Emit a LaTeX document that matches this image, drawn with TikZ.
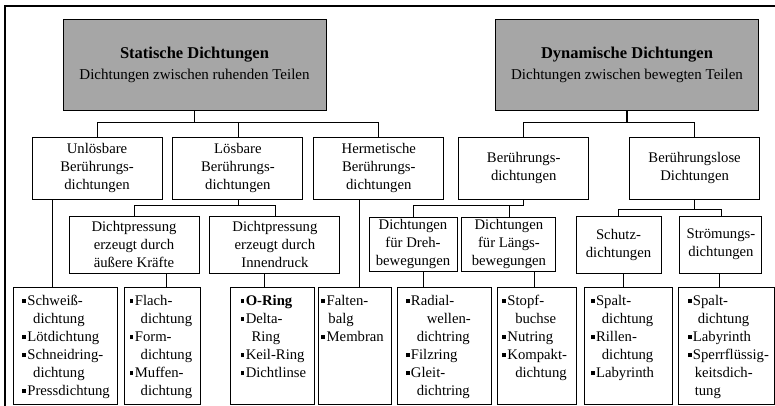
\documentclass[tikz,border=0pt]{standalone}
\usepackage{fontspec}
\setmainfont{Liberation Serif}
\usetikzlibrary{positioning}
\definecolor{hdrgray}{HTML}{A6A6A6}
\newcommand\sq{\raisebox{2.4pt}{\rule{3.8pt}{3.8pt}}\kern1.4pt\relax}
\newcommand\ind{\hspace*{11pt}}

\begin{document}
\begin{tikzpicture}[x=1pt, y=-1pt, font=\fontsize{14.7}{18}\selectfont,
  hdr/.style={draw, line width=0.9pt, fill=hdrgray, align=center, minimum width=263pt, minimum height=91pt, font=\fontsize{15}{21}\selectfont},
  cat/.style={draw, line width=0.9pt, align=center, minimum width=130pt, minimum height=62pt, inner sep=2pt},
  sub/.style={draw, line width=0.9pt, align=center, minimum height=57pt, inner sep=2pt},
  leaf/.style={draw, line width=0.9pt, align=left, text height=11pt, text depth=92pt, inner ysep=7pt, execute at begin node={\hyphenpenalty=10000\exhyphenpenalty=10000}},
  link/.style={line width=0.8pt},
  trunk/.style={line width=1.6pt}]
\useasboundingbox (0,0) rectangle (775,406);
\draw[line width=1.6pt] (5,406) -- (5,6) -- (775,6);
% Kopfzeile
\node[hdr] (stat) at (194.5,64.5) {{\fontsize{16.5}{21}\selectfont\bfseries Statische Dichtungen}\\Dichtungen zwischen ruhenden Teilen};
\node[hdr] (dyn) at (627,64.5) {{\fontsize{16.5}{21}\selectfont\bfseries Dynamische Dichtungen}\\Dichtungen zwischen bewegten Teilen};
% zweite Ebene
\node[cat] (unl) at (97,168) {Unlösbare\\Berührungs-\\dichtungen};
\node[cat, right=10pt of unl] (loes) {Lösbare\\Berührungs-\\dichtungen};
\node[cat, right=10pt of loes] (herm) {Hermetische\\Berührungs-\\dichtungen};
\node[cat, right=14pt of herm] (ber) {Berührungs-\\dichtungen};
\node[cat, right=40pt of ber] (berlos) {Berührungslose\\Dichtungen};
% dritte Ebene
\node[sub, minimum width=130pt] (dpa) at (134,244.5) {Dichtpressung\\erzeugt durch\\äußere Kräfte};
\node[sub, minimum width=130pt, right=10pt of dpa] (dpi) {Dichtpressung\\erzeugt durch\\Innendruck};
\node[sub, minimum width=88pt, minimum height=54pt] (dreh) at (413,244) {Dichtungen\\für Dreh-\\bewegungen};
\node[sub, minimum width=94pt, minimum height=54pt, right=4pt of dreh] (laengs) {Dichtungen\\für Längs-\\bewegungen};
\node[sub, minimum width=85pt] (schutz) at (618.5,244.5) {Schutz-\\dichtungen};
\node[sub, minimum width=82pt, right=18pt of schutz] (stroem) {Strömungs-\\dichtungen};
% Beispiele
\node[leaf, anchor=north west, inner xsep=8.7pt, text width=86.6pt] (l1) at (13,287) {\sq Schweiß-\\\ind dichtung\\\sq Lötdichtung\\\sq Schneidring-\\\ind dichtung\\\sq Pressdichtung};
\node[leaf, inner xsep=5.3pt, text width=65.4pt, right=6pt of l1] (l2) {\sq Flach-\\\ind dichtung\\\sq Form-\\\ind dichtung\\\sq Muffen-\\\ind dichtung};
\node[leaf, inner xsep=10.3pt, text width=63.4pt, right=29pt of l2] (l3) {\sq\textbf{O-Ring}\\\sq Delta-\\\ind Ring\\\sq Keil-Ring\\\sq Dichtlinse};
\node[leaf, inner xsep=3.3pt, text width=66.4pt, right=3pt of l3] (l4) {\sq Falten-\\\hspace*{7pt}balg\\\sq Membran};
\node[leaf, inner xsep=8.7pt, text width=76.6pt, right=5pt of l4] (l5) {\sq Radial-\\\hspace*{21pt}wellen-\\\ind dichtring\\\sq Filzring\\\sq Gleit-\\\ind dichtring};
\node[leaf, inner xsep=5.3pt, text width=68.4pt, right=5pt of l5] (l6) {\sq Stopf-\\\hspace*{13pt}buchse\\\sq Nutring\\\sq Kompakt-\\\hspace*{13pt}dichtung};
\node[leaf, inner xsep=6pt, text width=76pt, right=8pt of l6] (l7) {\sq Spalt-\\\ind dichtung\\\sq Rillen-\\\ind dichtung\\\sq Labyrinth};
\node[leaf, inner xsep=9pt, text width=78pt, right=5pt of l7] (l8) {\sq Spalt-\\\hspace*{10pt}dichtung\\\sq Labyrinth\\\sq Sperrflüssig-\\\hspace*{7pt}keitsdich-\\\hspace*{7pt}tung};
% Verbindungen
\draw[trunk] (stat.south) -- ++(0,13);
\draw[link] (unl.north) -- ++(0,-14) -| (herm.north);
\draw[link] (loes.north) -- ++(0,-14);
\draw[trunk] (dyn.south) -- ++(0,13);
\draw[link] (ber.north) -- ++(0,-14) -| (berlos.north);
\draw[link] (dpa.north) -- ++(0,-10) -| (dpi.north);
\draw[link] (loes.south) -- ++(0,7);
\draw[link] (dreh.north) |- ([yshift=-6pt]ber.south) -- (ber.south);
\draw[link] (laengs.north) -- ++(0,-12);
\draw[link] (schutz.north) -- ++(0,-6) -| (stroem.north);
\draw[link] (berlos.south) -- ++(0,11);
\draw[link] ([xshift=-13pt]l1.north) -- ([xshift=-13pt]l1.north |- unl.south);
\draw[link] ([xshift=4pt]l2.north) -- ([xshift=4pt]l2.north |- dpa.south);
\draw[link] ([xshift=-8pt]l3.north) -- ([xshift=-8pt]l3.north |- dpi.south);
\draw[link] ([xshift=4.5pt]l4.north) -- ([xshift=4.5pt]l4.north |- herm.south);
\draw[link] ([xshift=-21pt]l5.north) -- ([xshift=-21pt]l5.north |- dreh.south);
\draw[link] ([xshift=-2.5pt]l6.north) -- ([xshift=-2.5pt]l6.north |- laengs.south);
\draw[link] ([xshift=-5pt]l7.north) -- ([xshift=-5pt]l7.north |- schutz.south);
\draw[link] ([xshift=-7pt]l8.north) -- ([xshift=-7pt]l8.north |- stroem.south);
\end{tikzpicture}
\end{document}
